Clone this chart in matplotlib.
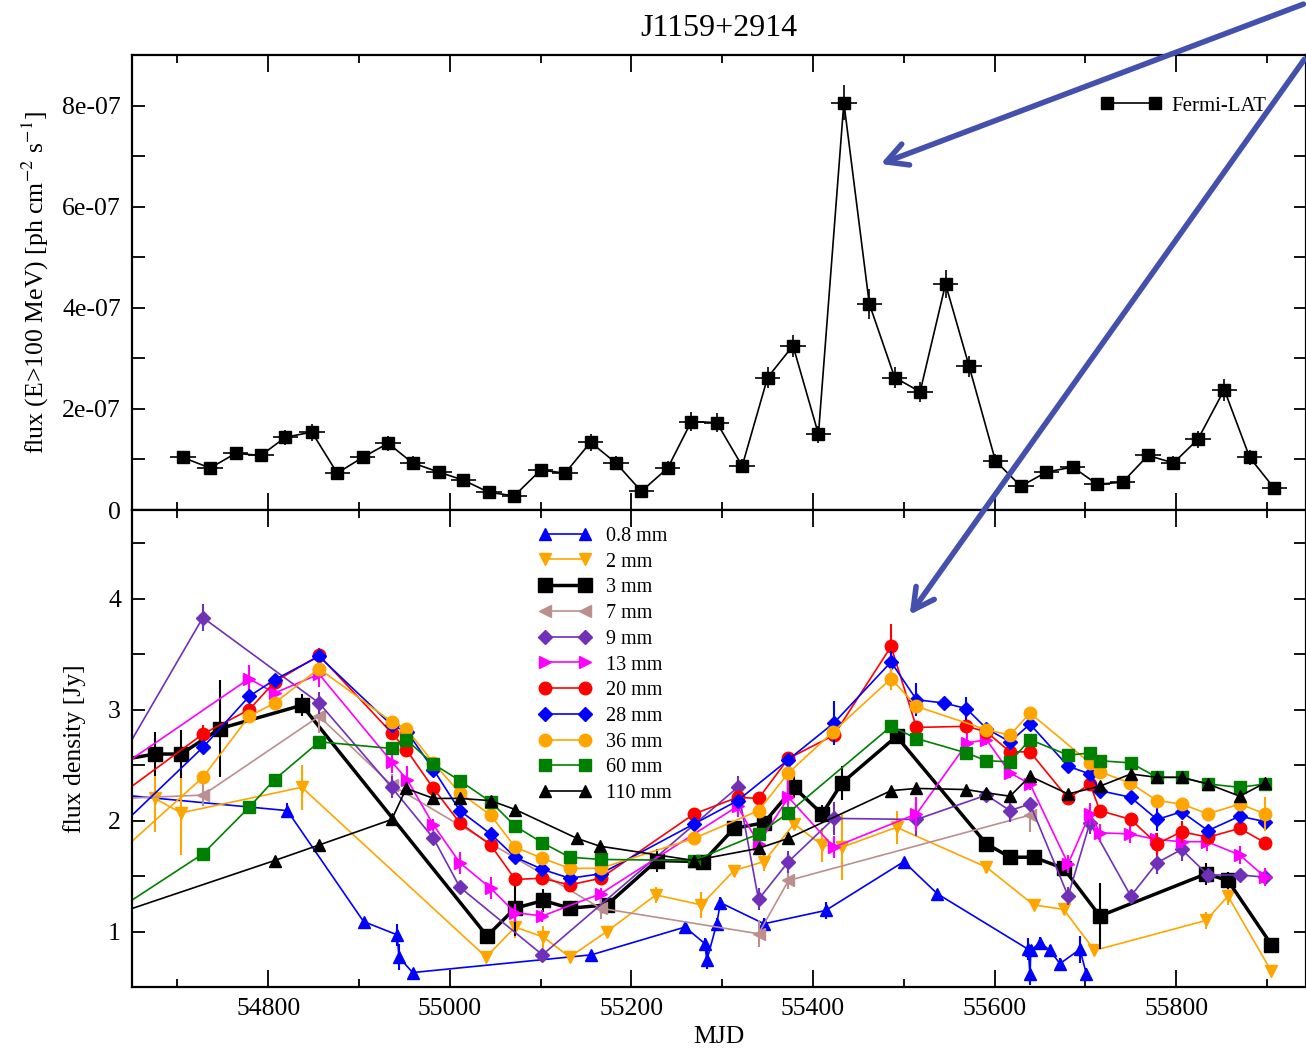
import numpy as np
import matplotlib
matplotlib.use('Agg')
import matplotlib.pyplot as plt
from matplotlib.ticker import MultipleLocator, FuncFormatter
from matplotlib.patches import FancyArrowPatch

plt.rcParams['font.family'] = ['Liberation Serif', 'DejaVu Serif']
plt.rcParams['mathtext.fontset'] = 'stix'

# ---- Fermi-LAT light curve (flux in units of 1e-7 ph cm-2 s-1) ----
lat_mjd = [54706, 54736, 54764, 54792, 54819, 54848, 54876, 54904, 54932, 54959,
           54988, 55015, 55043, 55071, 55100, 55127, 55155, 55183, 55211, 55240,
           55266, 55294, 55322, 55350, 55378, 55406, 55434, 55462, 55490, 55518,
           55546, 55572, 55601, 55629, 55657, 55686, 55713, 55741, 55769, 55797,
           55824, 55853, 55881, 55908]
lat_flux = [1.04, 0.83, 1.12, 1.08, 1.44, 1.54, 0.73, 1.04, 1.32, 0.93,
            0.75, 0.59, 0.35, 0.28, 0.79, 0.73, 1.34, 0.93, 0.37, 0.83,
            1.75, 1.73, 0.87, 2.62, 3.25, 1.50, 8.06, 4.08, 2.62, 2.34,
            4.47, 2.84, 0.97, 0.47, 0.75, 0.85, 0.51, 0.55, 1.08, 0.93,
            1.40, 2.38, 1.04, 0.43]
lat_err = [0.12, 0.12, 0.13, 0.13, 0.15, 0.17, 0.12, 0.13, 0.15, 0.13,
           0.12, 0.11, 0.09, 0.09, 0.12, 0.12, 0.17, 0.13, 0.10, 0.13,
           0.18, 0.18, 0.13, 0.20, 0.22, 0.17, 0.34, 0.30, 0.20, 0.20,
           0.27, 0.20, 0.13, 0.10, 0.12, 0.12, 0.10, 0.10, 0.13, 0.13,
           0.17, 0.22, 0.14, 0.12]
lat_bin = 14

# ---- radio / mm light curves (flux density in Jy) ----
mjd_08 = [54640, 54821, 54905, 54942, 54944, 54959, 55156, 55259, 55281, 55283,
          55294, 55298, 55346, 55414, 55500, 55537, 55637, 55639, 55640, 55650,
          55661, 55672, 55694, 55701]
f_08 = [2.23, 2.09, 1.09, 0.97, 0.77, 0.63, 0.79, 1.04, 0.89, 0.74,
        1.07, 1.26, 1.07, 1.19, 1.63, 1.34, 0.84, 0.62, 0.83, 0.90,
        0.83, 0.71, 0.84, 0.62]
e_08 = [0.05, 0.07, 0.03, 0.10, 0.12, 0.03, 0.03, 0.03, 0.05, 0.08,
        0.05, 0.05, 0.05, 0.08, 0.03, 0.03, 0.10, 0.10, 0.05, 0.05,
        0.05, 0.05, 0.12, 0.05]

mjd_2 = [54675, 54704, 54837, 55040, 55072, 55103, 55132, 55173, 55227, 55277,
         55313, 55346, 55379, 55410, 55432, 55492, 55591, 55643, 55676, 55710,
         55833, 55857, 55905]
f_2 = [2.20, 2.07, 2.30, 0.77, 1.04, 0.95, 0.77, 1.00, 1.33, 1.24,
       1.55, 1.63, 1.97, 1.78, 1.76, 1.94, 1.58, 1.24, 1.20, 0.83,
       1.10, 1.32, 0.64]
e_2 = [0.30, 0.38, 0.20, 0.03, 0.10, 0.10, 0.05, 0.03, 0.07, 0.12,
       0.05, 0.08, 0.05, 0.15, 0.30, 0.15, 0.05, 0.05, 0.05, 0.05,
       0.08, 0.08, 0.05]

mjd_3 = [54640, 54675, 54704, 54747, 54837, 55041, 55072, 55103, 55132, 55173,
         55228, 55279, 55313, 55346, 55379, 55410, 55432, 55492, 55591, 55617,
         55643, 55676, 55716, 55833, 55857, 55905]
f_3 = [2.55, 2.60, 2.60, 2.83, 3.04, 0.96, 1.21, 1.28, 1.21, 1.24,
       1.64, 1.63, 1.93, 1.98, 2.30, 2.06, 2.34, 2.76, 1.79, 1.67,
       1.67, 1.57, 1.14, 1.52, 1.46, 0.88]
e_3 = [0.05, 0.20, 0.22, 0.44, 0.10, 0.03, 0.25, 0.10, 0.05, 0.05,
       0.10, 0.05, 0.06, 0.10, 0.10, 0.08, 0.15, 0.05, 0.05, 0.03,
       0.06, 0.05, 0.30, 0.10, 0.08, 0.03]

mjd_7 = [54640, 54728, 54856, 54936, 55166, 55340, 55373, 55639]
f_7 = [2.20, 2.23, 2.94, 2.32, 1.21, 0.98, 1.46, 2.05]
e_7 = [0.05, 0.10, 0.15, 0.10, 0.10, 0.12, 0.08, 0.15]

mjd_9 = [54640, 54728, 54856, 54936, 54982, 55011, 55102, 55317, 55340, 55373,
         55423, 55514, 55591, 55617, 55639, 55681, 55705, 55750, 55779, 55806,
         55835, 55870, 55898]
f_9 = [2.59, 3.83, 3.06, 2.30, 1.84, 1.40, 0.79, 2.30, 1.29, 1.63,
       2.02, 2.01, 2.23, 2.09, 2.15, 1.32, 1.98, 1.32, 1.62, 1.74,
       1.51, 1.51, 1.49]
e_9 = [0.05, 0.12, 0.10, 0.10, 0.05, 0.05, 0.03, 0.10, 0.10, 0.10,
       0.15, 0.15, 0.05, 0.10, 0.05, 0.08, 0.10, 0.05, 0.10, 0.10,
       0.05, 0.05, 0.05]

mjd_13 = [54640, 54779, 54807, 54856, 54936, 54953, 54982, 55011, 55045, 55072,
          55102, 55166, 55317, 55340, 55373, 55423, 55514, 55570, 55591, 55617,
          55639, 55681, 55705, 55716, 55749, 55778, 55806, 55834, 55870, 55898]
f_13 = [2.50, 3.28, 3.15, 3.32, 2.53, 2.37, 1.96, 1.62, 1.39, 1.17,
        1.14, 1.34, 2.13, 1.79, 2.21, 1.76, 2.06, 2.70, 2.73, 2.43,
        2.33, 1.61, 2.06, 1.89, 1.88, 1.83, 1.81, 1.81, 1.69, 1.49]
e_13 = [0.05, 0.12, 0.08, 0.12, 0.10, 0.12, 0.05, 0.10, 0.10, 0.08,
        0.05, 0.05, 0.10, 0.08, 0.20, 0.10, 0.15, 0.15, 0.05, 0.05,
        0.05, 0.08, 0.10, 0.08, 0.08, 0.06, 0.06, 0.08, 0.08, 0.08]

mjd_20 = [54640, 54728, 54779, 54807, 54856, 54936, 54952, 54982, 55011, 55045,
          55072, 55102, 55132, 55166, 55269, 55317, 55340, 55373, 55423, 55486,
          55514, 55569, 55591, 55617, 55639, 55681, 55705, 55716, 55750, 55779,
          55806, 55835, 55870, 55898]
f_20 = [2.25, 2.78, 3.00, 3.25, 3.49, 2.79, 2.64, 2.29, 1.98, 1.78,
        1.47, 1.48, 1.42, 1.48, 2.06, 2.21, 2.20, 2.56, 2.77, 3.57,
        2.84, 2.85, 2.80, 2.62, 2.62, 2.20, 2.33, 2.09, 2.01, 1.79,
        1.90, 1.85, 1.93, 1.80]
e_20 = [0.03, 0.08, 0.05, 0.05, 0.07, 0.05, 0.05, 0.03, 0.03, 0.03,
        0.03, 0.03, 0.03, 0.03, 0.03, 0.03, 0.03, 0.05, 0.05, 0.20,
        0.03, 0.05, 0.05, 0.05, 0.05, 0.05, 0.05, 0.05, 0.03, 0.10,
        0.10, 0.05, 0.05, 0.05]

mjd_28 = [54640, 54728, 54779, 54807, 54856, 54936, 54953, 54982, 55011, 55045,
          55072, 55102, 55132, 55166, 55269, 55317, 55373, 55423, 55486, 55514,
          55544, 55569, 55591, 55617, 55639, 55681, 55705, 55716, 55750, 55779,
          55806, 55835, 55870, 55898]
f_28 = [1.97, 2.66, 3.12, 3.27, 3.48, 2.86, 2.80, 2.46, 2.09, 1.88,
        1.67, 1.56, 1.48, 1.52, 1.97, 2.18, 2.55, 2.88, 3.43, 3.09,
        3.06, 3.01, 2.83, 2.71, 2.87, 2.49, 2.42, 2.27, 2.21, 2.01,
        2.08, 1.91, 2.04, 1.99]
e_28 = [0.03, 0.03, 0.03, 0.03, 0.03, 0.03, 0.03, 0.03, 0.03, 0.03,
        0.03, 0.03, 0.03, 0.03, 0.03, 0.03, 0.03, 0.20, 0.10, 0.15,
        0.03, 0.10, 0.03, 0.03, 0.03, 0.03, 0.03, 0.03, 0.03, 0.10,
        0.03, 0.03, 0.03, 0.03]

mjd_36 = [54640, 54728, 54779, 54807, 54856, 54936, 54952, 54982, 55011, 55045,
          55072, 55102, 55132, 55166, 55269, 55340, 55373, 55422, 55486, 55514,
          55591, 55617, 55639, 55705, 55716, 55749, 55779, 55806, 55835, 55870,
          55898]
f_36 = [1.74, 2.39, 2.94, 3.06, 3.37, 2.89, 2.83, 2.52, 2.25, 2.05,
        1.76, 1.66, 1.57, 1.57, 1.84, 2.09, 2.43, 2.80, 3.28, 3.03,
        2.82, 2.77, 2.97, 2.52, 2.44, 2.34, 2.18, 2.15, 2.06, 2.15,
        2.06]
e_36 = [0.03, 0.03, 0.03, 0.03, 0.03, 0.03, 0.03, 0.03, 0.03, 0.03,
        0.03, 0.03, 0.03, 0.03, 0.03, 0.03, 0.03, 0.05, 0.10, 0.03,
        0.03, 0.03, 0.03, 0.03, 0.03, 0.03, 0.03, 0.03, 0.03, 0.03,
        0.15]

mjd_60 = [54640, 54728, 54779, 54807, 54856, 54936, 54952, 54982, 55011, 55045,
          55072, 55102, 55132, 55166, 55269, 55340, 55373, 55486, 55514, 55569,
          55591, 55617, 55639, 55681, 55705, 55716, 55750, 55779, 55806, 55835,
          55870, 55898]
f_60 = [1.23, 1.70, 2.12, 2.37, 2.71, 2.65, 2.73, 2.51, 2.36, 2.17,
        1.95, 1.80, 1.67, 1.65, 1.64, 1.88, 2.07, 2.85, 2.74, 2.61,
        2.54, 2.53, 2.73, 2.59, 2.61, 2.54, 2.52, 2.39, 2.39, 2.33,
        2.30, 2.33]

mjd_110 = [54640, 54807, 54856, 54936, 54952, 54982, 55011, 55045, 55072, 55140,
           55165, 55269, 55340, 55373, 55486, 55514, 55569, 55591, 55617, 55639,
           55681, 55716, 55750, 55779, 55806, 55835, 55870, 55898]
f_110 = [1.18, 1.64, 1.78, 2.01, 2.29, 2.20, 2.20, 2.18, 2.10, 1.84,
         1.77, 1.64, 1.75, 1.84, 2.27, 2.29, 2.28, 2.25, 2.22, 2.40,
         2.24, 2.31, 2.42, 2.39, 2.39, 2.33, 2.22, 2.34]

series = [
    ('0.8 mm', mjd_08, f_08, e_08, 'blue', '^', 9, 1.2),
    ('2 mm', mjd_2, f_2, e_2, 'orange', 'v', 9, 1.2),
    ('3 mm', mjd_3, f_3, e_3, 'black', 's', 10, 2.5),
    ('7 mm', mjd_7, f_7, e_7, 'rosybrown', '<', 9, 1.2),
    ('9 mm', mjd_9, f_9, e_9, '#7030b8', 'D', 7, 1.2),
    ('13 mm', mjd_13, f_13, e_13, 'magenta', '>', 9, 1.2),
    ('20 mm', mjd_20, f_20, e_20, 'red', 'o', 9, 1.2),
    ('28 mm', mjd_28, f_28, e_28, 'blue', 'D', 7, 1.2),
    ('36 mm', mjd_36, f_36, e_36, 'orange', 'o', 9, 1.2),
    ('60 mm', mjd_60, f_60, None, 'green', 's', 8, 1.2),
    ('110 mm', mjd_110, f_110, None, 'black', '^', 8, 1.2),
]

fig = plt.figure(figsize=(13.06, 10.52), dpi=100)
ax1 = fig.add_axes([0.1011, 0.5152, 0.8989, 0.4325])
ax2 = fig.add_axes([0.1011, 0.0618, 0.8989, 0.4534], sharex=ax1)

# top panel
flux = np.array(lat_flux) * 1e-7
ferr = np.array(lat_err) * 1e-7
ax1.errorbar(lat_mjd, flux, yerr=ferr, xerr=lat_bin, fmt='none', ecolor='black', elinewidth=1.2)
ax1.plot(lat_mjd, flux, color='black', marker='s', ms=9, lw=1.2, label='Fermi-LAT')
ax1.set_ylim(0, 9e-7)
ax1.yaxis.set_major_locator(MultipleLocator(2e-7))
ax1.yaxis.set_minor_locator(MultipleLocator(1e-7))
ax1.yaxis.set_major_formatter(FuncFormatter(lambda v, p: '0' if abs(v) < 1e-12 else '%.0e' % v))
ax1.set_ylabel('flux (E>100 MeV) [ph cm$^{-2}$ s$^{-1}$]', fontsize=18.5, labelpad=8)
ax1.set_title('J1159+2914', fontsize=23, pad=14)
ax1.legend(loc='center left', bbox_to_anchor=(0.8254, 0.888), frameon=False, numpoints=2,
           handlelength=2.9, handletextpad=0.5, borderpad=0, borderaxespad=0, fontsize=15)
plt.setp(ax1.get_xticklabels(), visible=False)

# bottom panel
for lab, x, y, e, c, m, ms, lw in series:
    if e is not None:
        ax2.errorbar(x, y, yerr=e, fmt='none', ecolor=c, elinewidth=1.5)
    ax2.plot(x, y, color=c, marker=m, ms=ms, lw=lw, label=lab)
ax2.set_ylim(0.5, 4.8)
ax2.yaxis.set_major_locator(MultipleLocator(1))
ax2.yaxis.set_minor_locator(MultipleLocator(0.5))
ax2.set_xlim(54650, 55943)
ax2.xaxis.set_major_locator(MultipleLocator(200))
ax2.xaxis.set_minor_locator(MultipleLocator(100))
ax2.set_xlabel('MJD', fontsize=18.5, labelpad=4)
ax2.set_ylabel('flux density [Jy]', fontsize=18.5, labelpad=16)
ax2.legend(loc='upper left', bbox_to_anchor=(0.3467, 0.965), frameon=False, numpoints=2,
           handlelength=2.6, handletextpad=0.7, borderpad=0, borderaxespad=0,
           labelspacing=0.33, fontsize=14.5)

for ax in (ax1, ax2):
    for s in ax.spines.values():
        s.set_linewidth(1.6)
    ax.tick_params(which='both', direction='in', top=True, right=True, width=1.3, labelsize=18.5, pad=8)
    ax.tick_params(axis='x', which='major', length=12)
    ax.tick_params(axis='x', which='minor', length=6)
    ax.tick_params(axis='y', which='both', length=9)

# the two annotation arrows
arrow_color = '#4450ae'
for start, end in [((1.0, 0.997), (0.6723, 0.8432)), ((1.0, 0.9458), (0.6953, 0.4135))]:
    arr = FancyArrowPatch(start, end, transform=fig.transFigure, arrowstyle='->,head_length=0.75,head_width=0.4',
                          mutation_scale=20, color=arrow_color, lw=4, zorder=10)
    fig.add_artist(arr)

fig.savefig('out.png', dpi=100)
